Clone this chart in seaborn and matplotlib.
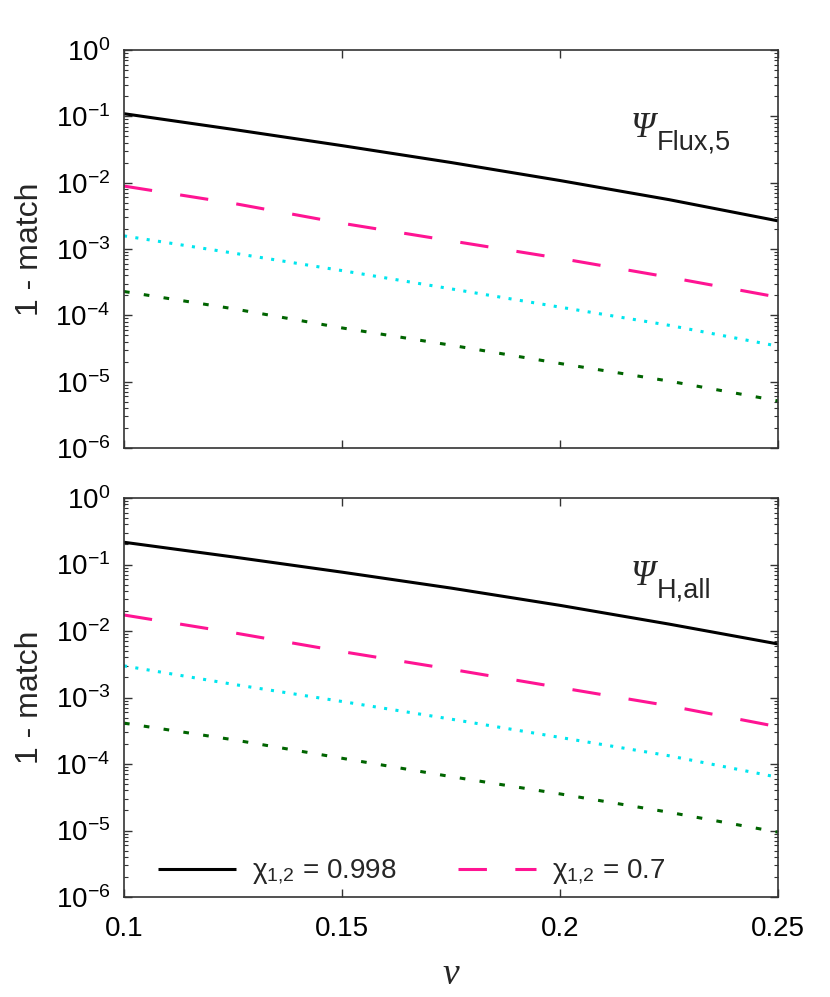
import matplotlib
matplotlib.use("Agg")
import matplotlib.pyplot as plt
import matplotlib.ticker as mticker
import seaborn as sns
import pandas as pd

# -------------------------------
# Data
# -------------------------------
nu = [0.100, 0.125, 0.150, 0.175, 0.200, 0.225, 0.250]

# top panel: Psi_Flux,5
flux_black = [0.110, 0.0638, 0.0363, 0.0202, 0.0108, 0.00556, 0.00266]
flux_pink = [0.00891, 0.00490, 0.00245, 0.00133, 7.24e-4, 3.76e-4, 1.88e-4]
flux_cyan = [1.58e-3, 8.71e-4, 4.73e-4, 2.51e-4, 1.33e-4, 7.08e-5, 3.43e-5]
flux_green = [2.29e-4, 1.26e-4, 6.46e-5, 3.55e-5, 1.88e-5, 1.02e-5, 5.13e-6]

# bottom panel: Psi_H,all
hall_black = [0.216, 0.130, 0.0767, 0.0442, 0.0243, 0.0127, 0.00638]
hall_pink = [0.0174, 0.00944, 0.00490, 0.00266, 0.00141, 7.50e-4, 3.63e-4]
hall_cyan = [2.99e-3, 1.58e-3, 8.71e-4, 4.73e-4, 2.51e-4, 1.33e-4, 6.31e-5]
hall_green = [4.12e-4, 2.32e-4, 1.22e-4, 6.46e-5, 3.55e-5, 1.88e-5, 9.44e-6]

xticks = [0.1, 0.15, 0.2, 0.25]
xtick_labels = ["0.1", "0.15", "0.2", "0.25"]
legend_labels = [r"$\mathrm{\chi}_{1{,}2}$ = 0.998", r"$\mathrm{\chi}_{1{,}2}$ = 0.7"]
panel_subs = ["Flux,5", "H,all"]

# -------------------------------
# Style
# -------------------------------
sns.set_theme(style="ticks")
plt.rcParams["font.family"] = ["Liberation Sans", "DejaVu Sans"]
plt.rcParams["mathtext.fontset"] = "custom"
plt.rcParams["mathtext.rm"] = "Liberation Sans"
plt.rcParams["mathtext.sf"] = "Liberation Sans"
plt.rcParams["mathtext.it"] = "Liberation Serif:italic"

colors = ["black", "#ff1493", "#00e5ee", "#006400"]
dash_styles = [None, (9.3, 9.3), (1.0, 2.75), (1.85, 4.7)]
LW = 2.2

fig = plt.figure(figsize=(8.3, 9.97), dpi=100)
ax_top = fig.add_axes([0.1494, 0.5507, 0.788, 0.399])
ax_bot = fig.add_axes([0.1494, 0.1003, 0.788, 0.4002])

panels = [
    (ax_top, [flux_black, flux_pink, flux_cyan, flux_green], panel_subs[0], 0.781),
    (ax_bot, [hall_black, hall_pink, hall_cyan, hall_green], panel_subs[1], 0.782),
]

for ax, series, sub, ty in panels:
    for i, vals in enumerate(series):
        df = pd.DataFrame({"nu": nu, "mm": vals})
        lab = legend_labels[i] if (ax is ax_bot and i < 2) else None
        sns.lineplot(data=df, x="nu", y="mm", ax=ax, color=colors[i],
                     lw=LW, label=lab, legend=False)
        ln = ax.get_lines()[-1]
        if dash_styles[i] is not None:
            ln.set_dashes(dash_styles[i])
        ln.set_solid_capstyle("butt")
        ln.set_dash_capstyle("butt")

    ax.set_yscale("log")
    ax.set_xlim(0.1, 0.25)
    ax.set_ylim(1e-6, 1)
    ax.set_xticks(xticks)
    ax.set_xticklabels(xtick_labels)
    ax.xaxis.set_minor_locator(mticker.NullLocator())
    ax.yaxis.set_major_locator(mticker.LogLocator(base=10, numticks=10))
    ax.yaxis.set_minor_locator(mticker.LogLocator(base=10, subs=range(2, 10), numticks=20))
    ax.yaxis.set_major_formatter(mticker.LogFormatterSciNotation())
    ax.yaxis.set_minor_formatter(mticker.NullFormatter())
    ax.tick_params(which="both", direction="in", top=True, right=True,
                   colors="#333333", labelcolor="black")
    ax.tick_params(which="major", length=6, width=1)
    ax.tick_params(which="minor", length=3, width=0.8)
    ax.tick_params(axis="x", pad=14, labelsize=20)
    ax.tick_params(axis="y", pad=10, labelsize=20)
    for sp in ax.spines.values():
        sp.set_color("#333333")
        sp.set_linewidth(1.2)
    ax.set_ylabel("1 - match", fontsize=23)
    ax.yaxis.set_label_coords(-0.121, 0.5)
    ax.set_xlabel("")

    # panel tag: italic serif Psi with sans subscript
    psi = ax.text(0.775, ty, "\u03a8", transform=ax.transAxes, fontsize=25,
                  family="Liberation Serif", style="italic", ha="left", va="baseline")
    ax.annotate(sub, xy=(1, ty), xycoords=(psi, ax.transAxes),
                xytext=(1, -9), textcoords="offset points",
                fontsize=19.5, ha="left", va="baseline")

ax_top.tick_params(axis="x", labelbottom=False)
ax_bot.set_xlabel(r"$\mathit{\nu}$", fontsize=27, labelpad=10)

leg = ax_bot.legend(loc="center left", bbox_to_anchor=(0.052, 0.062), ncol=2,
                    frameon=False, fontsize=20, handlelength=2.8,
                    columnspacing=2.2, handletextpad=0.6,
                    borderpad=0, borderaxespad=0)

fig.savefig("out.png", dpi=100)
